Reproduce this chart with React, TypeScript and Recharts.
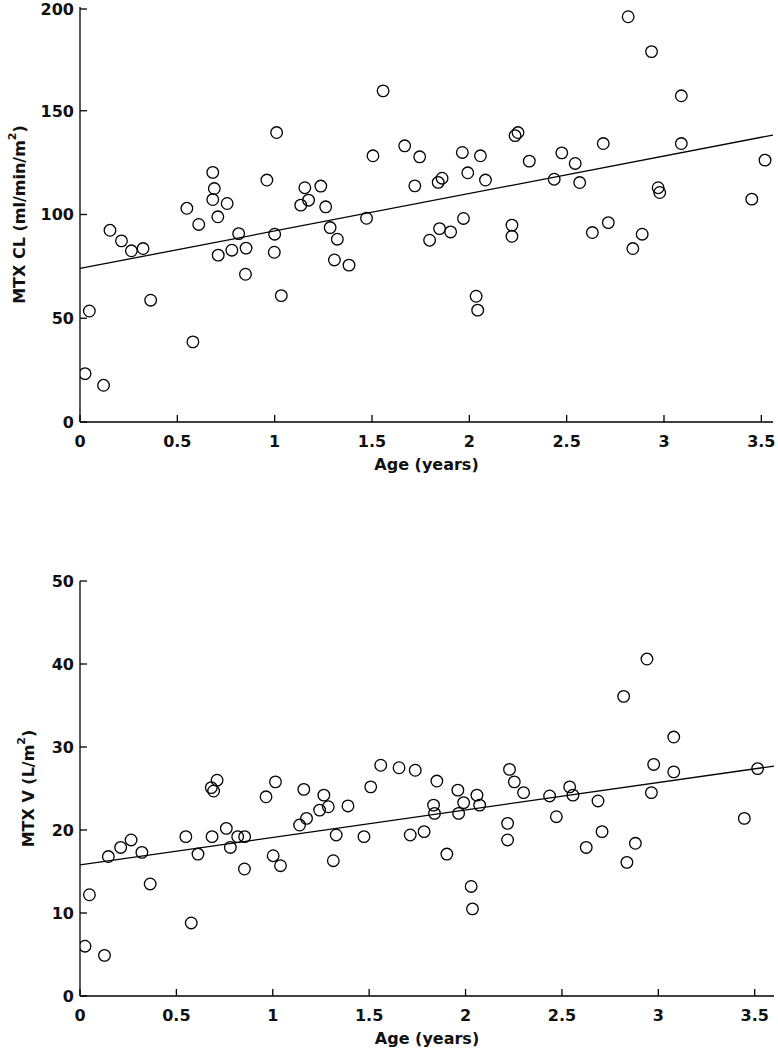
import { ScatterChart, Scatter, XAxis, YAxis, Label } from "recharts";

// top panel: MTX clearance vs age
const clAge = [
  0.026, 0.048, 0.121, 0.154, 0.213, 0.264, 0.324, 0.363, 0.549, 0.58, 0.61, 0.682, 0.69, 0.682, 0.708,
  0.756, 0.71, 0.78, 0.815, 0.853, 0.85, 0.96, 1.01, 1.0, 0.998, 1.034, 1.134, 1.155, 1.174, 1.237, 1.262,
  1.285, 1.322, 1.307, 1.382, 1.472, 1.505, 1.557, 1.668, 1.745, 1.72, 1.796, 1.847, 1.904, 1.84, 1.86,
  1.964, 1.992, 1.97, 2.057, 2.083, 2.035, 2.043, 2.219, 2.219, 2.235, 2.25, 2.308, 2.436, 2.475, 2.544,
  2.567, 2.632, 2.714, 2.688, 2.816, 2.936, 2.84, 2.888, 2.97, 2.978, 3.089, 3.089, 3.451, 3.519,
];
const clValue = [
  23.3, 53.5, 17.7, 92.4, 87.3, 82.5, 83.6, 58.7, 103, 38.6, 95.2, 120.3, 112.5, 107.2, 98.9,
  105.3, 80.4, 82.8, 90.8, 83.8, 71.2, 116.6, 139.5, 90.5, 81.8, 60.9, 104.5, 112.9, 106.9, 113.7, 103.7,
  93.7, 88.1, 78.1, 75.6, 98.2, 128.3, 159.6, 133.1, 127.8, 113.8, 87.6, 93.2, 91.6, 115.5, 117.5,
  129.9, 120.1, 98.1, 128.3, 116.6, 60.6, 53.9, 94.9, 89.5, 138, 139.5, 125.7, 117, 129.7, 124.6,
  115.4, 91.3, 96.1, 134.2, 195.3, 178.5, 83.6, 90.5, 112.9, 110.6, 157.2, 134.2, 107.4, 126.2,
];
const clFitAge = [0, 3.56];
const clFitValue = [74, 138.3];
const clTicks = [0, 50, 100, 150, 200];

// bottom panel: MTX volume vs age
const vAge = [
  0.026, 0.049, 0.127, 0.147, 0.211, 0.265, 0.321, 0.364, 0.549, 0.577, 0.612, 0.685, 0.711, 0.681, 0.693,
  0.759, 0.78, 0.818, 0.854, 0.853, 0.965, 1.014, 1.002, 1.04, 1.139, 1.175, 1.161, 1.243, 1.265, 1.288,
  1.329, 1.314, 1.39, 1.473, 1.508, 1.56, 1.655, 1.739, 1.851, 1.834, 1.839, 1.713, 1.785, 1.903, 1.96,
  1.99, 1.964, 2.059, 2.073, 2.029, 2.036, 2.228, 2.253, 2.301, 2.218, 2.218, 2.436, 2.471, 2.54, 2.557,
  2.687, 2.626, 2.708, 2.82, 2.941, 2.837, 2.881, 2.976, 2.964, 3.08, 3.08, 3.446, 3.515,
];
const vValue = [
  6.0, 12.2, 4.9, 16.8, 17.9, 18.8, 17.3, 13.5, 19.2, 8.8, 17.1, 19.2, 26.0, 25.1, 24.7,
  20.2, 17.9, 19.2, 19.2, 15.3, 24.0, 25.8, 16.9, 15.7, 20.6, 21.4, 24.9, 22.4, 24.2, 22.8,
  19.4, 16.3, 22.9, 19.2, 25.2, 27.8, 27.5, 27.2, 25.9, 23.0, 22.0, 19.4, 19.8, 17.1, 24.8,
  23.3, 22.0, 24.2, 23.0, 13.2, 10.5, 27.3, 25.8, 24.5, 20.8, 18.8, 24.1, 21.6, 25.2, 24.2,
  23.5, 17.9, 19.8, 36.1, 40.6, 16.1, 18.4, 27.9, 24.5, 31.2, 27.0, 21.4, 27.4,
];
const vFitAge = [0, 3.6];
const vFitValue = [15.8, 27.7];
const vTicks = [0, 10, 20, 30, 40, 50];

const ageTicks = [0, 0.5, 1, 1.5, 2, 2.5, 3, 3.5];

const FONT = "'DejaVu Sans', Arial, sans-serif";
const INK = "#111";

const toPoints = (xs: number[], ys: number[]) => xs.map((x, i) => ({ x, y: ys[i] }));

function OpenCircle(props: any) {
  const { cx, cy } = props;
  if (cx == null || cy == null) return null;
  return <circle cx={cx} cy={cy} r={5.8} fill="none" stroke="#000" strokeWidth={1.3} />;
}

function XTick({ x, y, payload }: any) {
  return (
    <g>
      <line x1={x} x2={x} y1={y} y2={y - 7} stroke="#000" strokeWidth={1.3} />
      <text x={x} y={y + 25} textAnchor="middle" fontFamily={FONT} fontWeight="bold" fontSize={16} fill={INK}>
        {payload.value}
      </text>
    </g>
  );
}

function YTick({ x, y, payload }: any) {
  return (
    <g>
      <line x1={x} x2={x + 7} y1={y} y2={y} stroke="#000" strokeWidth={1.3} />
      <text x={x - 6} y={y} dy="0.36em" textAnchor="end" fontFamily={FONT} fontWeight="bold" fontSize={16} fill={INK}>
        {payload.value}
      </text>
    </g>
  );
}

interface PanelProps {
  points: { x: number; y: number }[];
  fit: { x: number; y: number }[];
  xMax: number;
  yTicks: number[];
  height: number;
  margin: { top: number; right: number; bottom: number; left: number };
  labelX: number;
  labelMain: string;
  labelTail: string;
}

function Panel({ points, fit, xMax, yTicks, height, margin, labelX, labelMain, labelTail }: PanelProps) {
  const yMax = yTicks[yTicks.length - 1];
  return (
    <ScatterChart width={778} height={height} margin={margin}>
      <XAxis
        type="number"
        dataKey="x"
        domain={[0, xMax]}
        ticks={ageTicks}
        allowDataOverflow
        height={40}
        tickLine={false}
        tickSize={0}
        tickMargin={0}
        tick={<XTick />}
        axisLine={{ stroke: "#000", strokeWidth: 1.3 }}
      >
        <Label
          content={(p: any) => {
            const vb = p.viewBox;
            return (
              <text
                x={vb.x + vb.width / 2}
                y={vb.y + 48}
                textAnchor="middle"
                fontFamily={FONT}
                fontWeight="bold"
                fontSize={16}
                fill={INK}
              >
                Age (years)
              </text>
            );
          }}
        />
      </XAxis>
      <YAxis
        type="number"
        dataKey="y"
        domain={[0, yMax]}
        ticks={yTicks}
        allowDataOverflow
        width={80}
        tickLine={false}
        tickSize={0}
        tickMargin={0}
        tick={<YTick />}
        axisLine={{ stroke: "#000", strokeWidth: 1.3 }}
      >
        <Label
          content={(p: any) => {
            const vb = p.viewBox;
            const cy = vb.y + vb.height / 2;
            return (
              <text
                x={labelX}
                y={cy}
                transform={`rotate(-90 ${labelX} ${cy})`}
                textAnchor="middle"
                dominantBaseline="central"
                fontFamily={FONT}
                fontWeight="bold"
                fontSize={16}
                fill={INK}
              >
                {labelMain}
                <tspan dy={-7} fontSize={11}>2</tspan>
                <tspan dy={7}>{labelTail}</tspan>
              </text>
            );
          }}
        />
      </YAxis>
      <Scatter data={points} shape={<OpenCircle />} isAnimationActive={false} />
      <Scatter
        data={fit}
        line={{ stroke: "#000", strokeWidth: 1.3 }}
        shape={() => <g />}
        isAnimationActive={false}
      />
    </ScatterChart>
  );
}

export default function App() {
  return (
    <div style={{ position: "absolute", left: 0, top: 0, width: 778, height: 1050, background: "#fff" }}>
      <div style={{ position: "absolute", left: 0, top: 0 }}>
        <Panel
          points={toPoints(clAge, clValue)}
          fit={toPoints(clFitAge, clFitValue)}
          xMax={3.56}
          yTicks={clTicks}
          height={482}
          margin={{ top: 7, right: 5, bottom: 20, left: 0 }}
          labelX={19}
          labelMain="MTX CL (ml/min/m"
          labelTail=")"
        />
      </div>
      <div style={{ position: "absolute", left: 0, top: 560 }}>
        <Panel
          points={toPoints(vAge, vValue)}
          fit={toPoints(vFitAge, vFitValue)}
          xMax={3.6}
          yTicks={vTicks}
          height={490}
          margin={{ top: 21, right: 4, bottom: 14, left: 0 }}
          labelX={28}
          labelMain="MTX V (L/m"
          labelTail=")"
        />
      </div>
    </div>
  );
}
